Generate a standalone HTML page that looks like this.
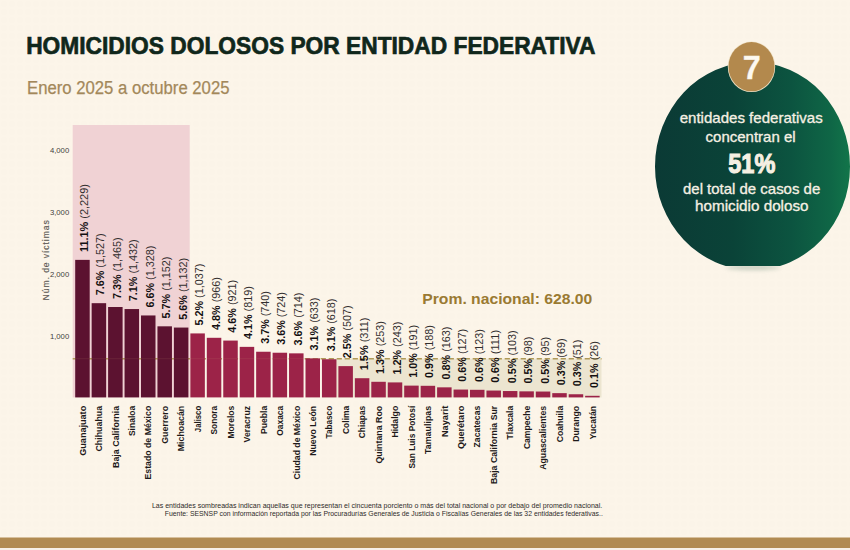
<!DOCTYPE html>
<html lang="es"><head><meta charset="utf-8"><title>Homicidios dolosos por entidad federativa</title>
<style>
html,body{margin:0;padding:0;}
body{width:850px;height:550px;overflow:hidden;background:#fcf5e9;font-family:"Liberation Sans",sans-serif;}
svg{display:block;position:absolute;left:0;top:0;}
text{font-family:"Liberation Sans",sans-serif;}
.v{font-size:10.15px;fill:#322e2e;}
.v tspan{font-weight:bold;fill:#141011;}
.e{font-size:8.8px;font-weight:bold;fill:#1e1a1a;text-anchor:end;}
.t{font-size:7.7px;fill:#423e3c;text-anchor:end;}
.w{fill:#f6f0e3;text-anchor:middle;stroke:#f6f0e3;stroke-width:0.3px;}
</style></head><body>
<svg width="850" height="550" viewBox="0 0 850 550">
<defs>
<linearGradient id="g" gradientUnits="userSpaceOnUse" x1="655" y1="0" x2="850" y2="0">
<stop offset="0" stop-color="#0b3a35"/><stop offset="0.4" stop-color="#0a4338"/><stop offset="0.7" stop-color="#0c5440"/><stop offset="0.9" stop-color="#0f6646"/><stop offset="1" stop-color="#12754a"/>
</linearGradient>
<clipPath id="c"><rect x="600" y="0" width="250" height="266"/></clipPath>
<filter id="b" x="-20%" y="-200%" width="140%" height="500%"><feGaussianBlur stdDeviation="2.2"/></filter>
<pattern id="p" width="8" height="8" patternUnits="userSpaceOnUse"><rect x="1" y="1" width="6" height="6" rx="2" fill="#f8f0e2"/></pattern>
</defs>
<rect x="0" y="0" width="850" height="550" fill="#fcf5e9"/>
<rect x="0" y="0" width="850" height="537" fill="url(#p)" opacity="0.16"/>

<rect x="0" y="537.5" width="850" height="10.5" fill="#b18b52"/>
<rect x="0" y="548" width="850" height="2" fill="#f7f1e8"/>
<rect x="72.7" y="125" width="117" height="272.4" fill="#f0d2d4"/>
<rect x="322" y="358.7" width="279.5" height="38.7" fill="#ece5d0"/>
<line x1="72.7" y1="358.7" x2="601.5" y2="358.7" stroke="#b09a58" stroke-width="1.5" stroke-dasharray="5.2 2.8"/>
<rect x="75.20" y="259.87" width="14.5" height="137.53" fill="#5c1230"/>
<rect x="91.65" y="303.18" width="14.5" height="94.22" fill="#5c1230"/>
<rect x="108.10" y="307.01" width="14.5" height="90.39" fill="#5c1230"/>
<rect x="124.55" y="309.05" width="14.5" height="88.35" fill="#5c1230"/>
<rect x="141.00" y="315.46" width="14.5" height="81.94" fill="#5c1230"/>
<rect x="157.45" y="326.32" width="14.5" height="71.08" fill="#5c1230"/>
<rect x="173.90" y="327.56" width="14.5" height="69.84" fill="#5c1230"/>
<rect x="190.35" y="333.42" width="14.5" height="63.98" fill="#9c2348"/>
<rect x="206.80" y="337.80" width="14.5" height="59.60" fill="#9c2348"/>
<rect x="223.25" y="340.57" width="14.5" height="56.83" fill="#9c2348"/>
<rect x="239.70" y="346.87" width="14.5" height="50.53" fill="#9c2348"/>
<rect x="256.15" y="351.74" width="14.5" height="45.66" fill="#9c2348"/>
<rect x="272.60" y="352.73" width="14.5" height="44.67" fill="#9c2348"/>
<rect x="289.05" y="353.35" width="14.5" height="44.05" fill="#9c2348"/>
<rect x="305.50" y="358.34" width="14.5" height="39.06" fill="#9c2348"/>
<rect x="321.95" y="359.27" width="14.5" height="38.13" fill="#9c2348"/>
<rect x="338.40" y="366.12" width="14.5" height="31.28" fill="#9c2348"/>
<rect x="354.85" y="378.21" width="14.5" height="19.19" fill="#9c2348"/>
<rect x="371.30" y="381.79" width="14.5" height="15.61" fill="#9c2348"/>
<rect x="387.75" y="382.41" width="14.5" height="14.99" fill="#9c2348"/>
<rect x="404.20" y="385.62" width="14.5" height="11.78" fill="#9c2348"/>
<rect x="420.65" y="385.80" width="14.5" height="11.60" fill="#9c2348"/>
<rect x="437.10" y="387.34" width="14.5" height="10.06" fill="#9c2348"/>
<rect x="453.55" y="389.56" width="14.5" height="7.84" fill="#9c2348"/>
<rect x="470.00" y="389.81" width="14.5" height="7.59" fill="#9c2348"/>
<rect x="486.45" y="390.55" width="14.5" height="6.85" fill="#9c2348"/>
<rect x="502.90" y="391.04" width="14.5" height="6.36" fill="#9c2348"/>
<rect x="519.35" y="391.35" width="14.5" height="6.05" fill="#9c2348"/>
<rect x="535.80" y="391.54" width="14.5" height="5.86" fill="#9c2348"/>
<rect x="552.25" y="393.14" width="14.5" height="4.26" fill="#9c2348"/>
<rect x="568.70" y="394.25" width="14.5" height="3.15" fill="#9c2348"/>
<rect x="585.15" y="395.80" width="14.5" height="1.60" fill="#9c2348"/>
<line x1="73" y1="358.7" x2="322" y2="358.7" stroke="#c9a878" stroke-width="0.9" opacity="0.12"/>
<text class="v" transform="translate(87.95 251.97) rotate(-90)" textLength="67.8" lengthAdjust="spacingAndGlyphs"><tspan>11.1%</tspan> (2,229)</text>
<text class="e" transform="translate(85.65 405.80) rotate(-90)" textLength="50.0" lengthAdjust="spacingAndGlyphs">Guanajuato</text>
<text class="v" transform="translate(104.40 295.28) rotate(-90)" textLength="61.8" lengthAdjust="spacingAndGlyphs"><tspan>7.6%</tspan> (1,527)</text>
<text class="e" transform="translate(102.10 405.80) rotate(-90)" textLength="45.8" lengthAdjust="spacingAndGlyphs">Chihuahua</text>
<text class="v" transform="translate(120.85 299.11) rotate(-90)" textLength="61.8" lengthAdjust="spacingAndGlyphs"><tspan>7.3%</tspan> (1,465)</text>
<text class="e" transform="translate(118.55 405.80) rotate(-90)" textLength="62.2" lengthAdjust="spacingAndGlyphs">Baja California</text>
<text class="v" transform="translate(137.30 301.15) rotate(-90)" textLength="61.8" lengthAdjust="spacingAndGlyphs"><tspan>7.1%</tspan> (1,432)</text>
<text class="e" transform="translate(135.00 405.80) rotate(-90)" textLength="30.3" lengthAdjust="spacingAndGlyphs">Sinaloa</text>
<text class="v" transform="translate(153.75 307.56) rotate(-90)" textLength="61.8" lengthAdjust="spacingAndGlyphs"><tspan>6.6%</tspan> (1,328)</text>
<text class="e" transform="translate(151.45 405.80) rotate(-90)" textLength="73.7" lengthAdjust="spacingAndGlyphs">Estado de México</text>
<text class="v" transform="translate(170.20 318.42) rotate(-90)" textLength="61.8" lengthAdjust="spacingAndGlyphs"><tspan>5.7%</tspan> (1,152)</text>
<text class="e" transform="translate(167.90 405.80) rotate(-90)" textLength="38.0" lengthAdjust="spacingAndGlyphs">Guerrero</text>
<text class="v" transform="translate(186.65 319.66) rotate(-90)" textLength="61.8" lengthAdjust="spacingAndGlyphs"><tspan>5.6%</tspan> (1,132)</text>
<text class="e" transform="translate(184.35 405.80) rotate(-90)" textLength="45.5" lengthAdjust="spacingAndGlyphs">Michoacán</text>
<text class="v" transform="translate(203.10 325.52) rotate(-90)" textLength="61.8" lengthAdjust="spacingAndGlyphs"><tspan>5.2%</tspan> (1,037)</text>
<text class="e" transform="translate(200.80 405.80) rotate(-90)" textLength="26.4" lengthAdjust="spacingAndGlyphs">Jalisco</text>
<text class="v" transform="translate(219.55 329.90) rotate(-90)" textLength="52.8" lengthAdjust="spacingAndGlyphs"><tspan>4.8%</tspan> (966)</text>
<text class="e" transform="translate(217.25 405.80) rotate(-90)" textLength="28.7" lengthAdjust="spacingAndGlyphs">Sonora</text>
<text class="v" transform="translate(236.00 332.67) rotate(-90)" textLength="52.8" lengthAdjust="spacingAndGlyphs"><tspan>4.6%</tspan> (921)</text>
<text class="e" transform="translate(233.70 405.80) rotate(-90)" textLength="32.7" lengthAdjust="spacingAndGlyphs">Morelos</text>
<text class="v" transform="translate(252.45 338.97) rotate(-90)" textLength="52.8" lengthAdjust="spacingAndGlyphs"><tspan>4.1%</tspan> (819)</text>
<text class="e" transform="translate(250.15 405.80) rotate(-90)" textLength="36.7" lengthAdjust="spacingAndGlyphs">Veracruz</text>
<text class="v" transform="translate(268.90 343.84) rotate(-90)" textLength="52.8" lengthAdjust="spacingAndGlyphs"><tspan>3.7%</tspan> (740)</text>
<text class="e" transform="translate(266.60 405.80) rotate(-90)" textLength="28.2" lengthAdjust="spacingAndGlyphs">Puebla</text>
<text class="v" transform="translate(285.35 344.83) rotate(-90)" textLength="52.8" lengthAdjust="spacingAndGlyphs"><tspan>3.6%</tspan> (724)</text>
<text class="e" transform="translate(283.05 405.80) rotate(-90)" textLength="30.0" lengthAdjust="spacingAndGlyphs">Oaxaca</text>
<text class="v" transform="translate(301.80 345.45) rotate(-90)" textLength="52.8" lengthAdjust="spacingAndGlyphs"><tspan>3.6%</tspan> (714)</text>
<text class="e" transform="translate(299.50 405.80) rotate(-90)" textLength="73.6" lengthAdjust="spacingAndGlyphs">Ciudad de México</text>
<text class="v" transform="translate(318.25 350.44) rotate(-90)" textLength="52.8" lengthAdjust="spacingAndGlyphs"><tspan>3.1%</tspan> (633)</text>
<text class="e" transform="translate(315.95 405.80) rotate(-90)" textLength="50.0" lengthAdjust="spacingAndGlyphs">Nuevo León</text>
<text class="v" transform="translate(334.70 351.37) rotate(-90)" textLength="52.8" lengthAdjust="spacingAndGlyphs"><tspan>3.1%</tspan> (618)</text>
<text class="e" transform="translate(332.40 405.80) rotate(-90)" textLength="32.7" lengthAdjust="spacingAndGlyphs">Tabasco</text>
<text class="v" transform="translate(351.15 358.22) rotate(-90)" textLength="52.8" lengthAdjust="spacingAndGlyphs"><tspan>2.5%</tspan> (507)</text>
<text class="e" transform="translate(348.85 405.80) rotate(-90)" textLength="28.2" lengthAdjust="spacingAndGlyphs">Colima</text>
<text class="v" transform="translate(367.60 370.31) rotate(-90)" textLength="52.8" lengthAdjust="spacingAndGlyphs"><tspan>1.5%</tspan> (311)</text>
<text class="e" transform="translate(365.30 405.80) rotate(-90)" textLength="32.4" lengthAdjust="spacingAndGlyphs">Chiapas</text>
<text class="v" transform="translate(384.05 373.89) rotate(-90)" textLength="52.8" lengthAdjust="spacingAndGlyphs"><tspan>1.3%</tspan> (253)</text>
<text class="e" transform="translate(381.75 405.80) rotate(-90)" textLength="57.8" lengthAdjust="spacingAndGlyphs">Quintana Roo</text>
<text class="v" transform="translate(400.50 374.51) rotate(-90)" textLength="52.8" lengthAdjust="spacingAndGlyphs"><tspan>1.2%</tspan> (243)</text>
<text class="e" transform="translate(398.20 405.80) rotate(-90)" textLength="31.8" lengthAdjust="spacingAndGlyphs">Hidalgo</text>
<text class="v" transform="translate(416.95 377.72) rotate(-90)" textLength="52.8" lengthAdjust="spacingAndGlyphs"><tspan>1.0%</tspan> (191)</text>
<text class="e" transform="translate(414.65 405.80) rotate(-90)" textLength="62.7" lengthAdjust="spacingAndGlyphs">San Luis Potosí</text>
<text class="v" transform="translate(433.40 377.90) rotate(-90)" textLength="52.8" lengthAdjust="spacingAndGlyphs"><tspan>0.9%</tspan> (188)</text>
<text class="e" transform="translate(431.10 405.80) rotate(-90)" textLength="48.2" lengthAdjust="spacingAndGlyphs">Tamaulipas</text>
<text class="v" transform="translate(449.85 379.44) rotate(-90)" textLength="52.8" lengthAdjust="spacingAndGlyphs"><tspan>0.8%</tspan> (163)</text>
<text class="e" transform="translate(447.55 405.80) rotate(-90)" textLength="31.3" lengthAdjust="spacingAndGlyphs">Nayarit</text>
<text class="v" transform="translate(466.30 381.66) rotate(-90)" textLength="52.8" lengthAdjust="spacingAndGlyphs"><tspan>0.6%</tspan> (127)</text>
<text class="e" transform="translate(464.00 405.80) rotate(-90)" textLength="43.3" lengthAdjust="spacingAndGlyphs">Querétaro</text>
<text class="v" transform="translate(482.75 381.91) rotate(-90)" textLength="52.8" lengthAdjust="spacingAndGlyphs"><tspan>0.6%</tspan> (123)</text>
<text class="e" transform="translate(480.45 405.80) rotate(-90)" textLength="41.6" lengthAdjust="spacingAndGlyphs">Zacatecas</text>
<text class="v" transform="translate(499.20 382.65) rotate(-90)" textLength="52.8" lengthAdjust="spacingAndGlyphs"><tspan>0.6%</tspan> (111)</text>
<text class="e" transform="translate(496.90 405.80) rotate(-90)" textLength="78.2" lengthAdjust="spacingAndGlyphs">Baja California Sur</text>
<text class="v" transform="translate(515.65 383.14) rotate(-90)" textLength="52.8" lengthAdjust="spacingAndGlyphs"><tspan>0.5%</tspan> (103)</text>
<text class="e" transform="translate(513.35 405.80) rotate(-90)" textLength="33.6" lengthAdjust="spacingAndGlyphs">Tlaxcala</text>
<text class="v" transform="translate(532.10 383.45) rotate(-90)" textLength="46.8" lengthAdjust="spacingAndGlyphs"><tspan>0.5%</tspan> (98)</text>
<text class="e" transform="translate(529.80 405.80) rotate(-90)" textLength="43.3" lengthAdjust="spacingAndGlyphs">Campeche</text>
<text class="v" transform="translate(548.55 383.64) rotate(-90)" textLength="46.8" lengthAdjust="spacingAndGlyphs"><tspan>0.5%</tspan> (95)</text>
<text class="e" transform="translate(546.25 405.80) rotate(-90)" textLength="64.0" lengthAdjust="spacingAndGlyphs">Aguascalientes</text>
<text class="v" transform="translate(565.00 385.24) rotate(-90)" textLength="46.8" lengthAdjust="spacingAndGlyphs"><tspan>0.3%</tspan> (69)</text>
<text class="e" transform="translate(562.70 405.80) rotate(-90)" textLength="36.4" lengthAdjust="spacingAndGlyphs">Coahuila</text>
<text class="v" transform="translate(581.45 386.35) rotate(-90)" textLength="46.8" lengthAdjust="spacingAndGlyphs"><tspan>0.3%</tspan> (51)</text>
<text class="e" transform="translate(579.15 405.80) rotate(-90)" textLength="36.0" lengthAdjust="spacingAndGlyphs">Durango</text>
<text class="v" transform="translate(597.90 387.90) rotate(-90)" textLength="46.8" lengthAdjust="spacingAndGlyphs"><tspan>0.1%</tspan> (26)</text>
<text class="e" transform="translate(595.60 405.80) rotate(-90)" textLength="33.6" lengthAdjust="spacingAndGlyphs">Yucatán</text>
<text class="t" x="69.2" y="338.5">1,000</text>
<text class="t" x="69.2" y="276.8">2,000</text>
<text class="t" x="69.2" y="215.1">3,000</text>
<text class="t" x="69.2" y="153.4">4,000</text>
<text transform="translate(48.9 300.4) rotate(-90)" font-size="8.6" fill="#605b57" stroke="#605b57" stroke-width="0.15" textLength="80.2" lengthAdjust="spacing">Núm. de víctimas</text>
<text x="26.2" y="53.5" font-size="24.6" font-weight="bold" fill="#10271b" stroke="#10271b" stroke-width="0.7" textLength="569.3" lengthAdjust="spacingAndGlyphs">HOMICIDIOS DOLOSOS POR ENTIDAD FEDERATIVA</text>
<text x="27" y="93.8" font-size="18" fill="#a3885a" stroke="#a3885a" stroke-width="0.25" textLength="202.5" lengthAdjust="spacingAndGlyphs">Enero 2025 a octubre 2025</text>
<text x="422.3" y="303.5" font-size="15.4" font-weight="bold" fill="#9a7a32" textLength="170" lengthAdjust="spacingAndGlyphs">Prom. nacional: 628.00</text>
<text x="602.3" y="507.7" font-size="7.2" fill="#2e2b29" text-anchor="end" textLength="450.4" lengthAdjust="spacingAndGlyphs">Las entidades sombreadas indican aquellas que representan el cincuenta porciento o más del total nacional o por debajo del promedio nacional.</text>
<text x="602.8" y="515.7" font-size="7.2" fill="#2e2b29" text-anchor="end" textLength="438" lengthAdjust="spacingAndGlyphs">Fuente: SESNSP con información reportada por las Procuradurías Generales de Justicia o Fiscalías Generales de las 32 entidades federativas..</text>
<ellipse cx="753" cy="267.5" rx="27" ry="2.6" fill="#9fb0a0" opacity="0.55" filter="url(#b)"/>
<g clip-path="url(#c)"><path d="M655 166.4A98 104.4 0 0 1 753 62A97 104.4 0 0 1 850 166.4A97 103.7 0 0 1 753 270.1A98 103.7 0 0 1 655 166.4Z" fill="url(#g)"/></g>
<ellipse cx="751.5" cy="66.8" rx="23.7" ry="25.3" fill="#efe2c6"/>
<ellipse cx="751.5" cy="66.7" rx="23" ry="24.6" fill="#b3894d"/>
<text class="w" x="751.7" y="79.4" font-size="32.4" font-weight="bold" style="fill:#fdf9f0">7</text>
<text class="w" x="751.2" y="122.6" font-size="14.2" textLength="143" lengthAdjust="spacingAndGlyphs">entidades federativas</text>
<text class="w" x="750.6" y="142.2" font-size="14.2" textLength="90" lengthAdjust="spacingAndGlyphs">concentran el</text>
<text class="w" x="751.8" y="172.9" font-size="27.6" font-weight="bold" style="stroke-width:1.1px" textLength="47" lengthAdjust="spacingAndGlyphs">51%</text>
<text class="w" x="751.6" y="194.4" font-size="14.2" textLength="137.2" lengthAdjust="spacingAndGlyphs">del total de casos de</text>
<text class="w" x="751.8" y="210.9" font-size="14.2" textLength="113.6" lengthAdjust="spacingAndGlyphs">homicidio doloso</text>
</svg>
</body></html>
